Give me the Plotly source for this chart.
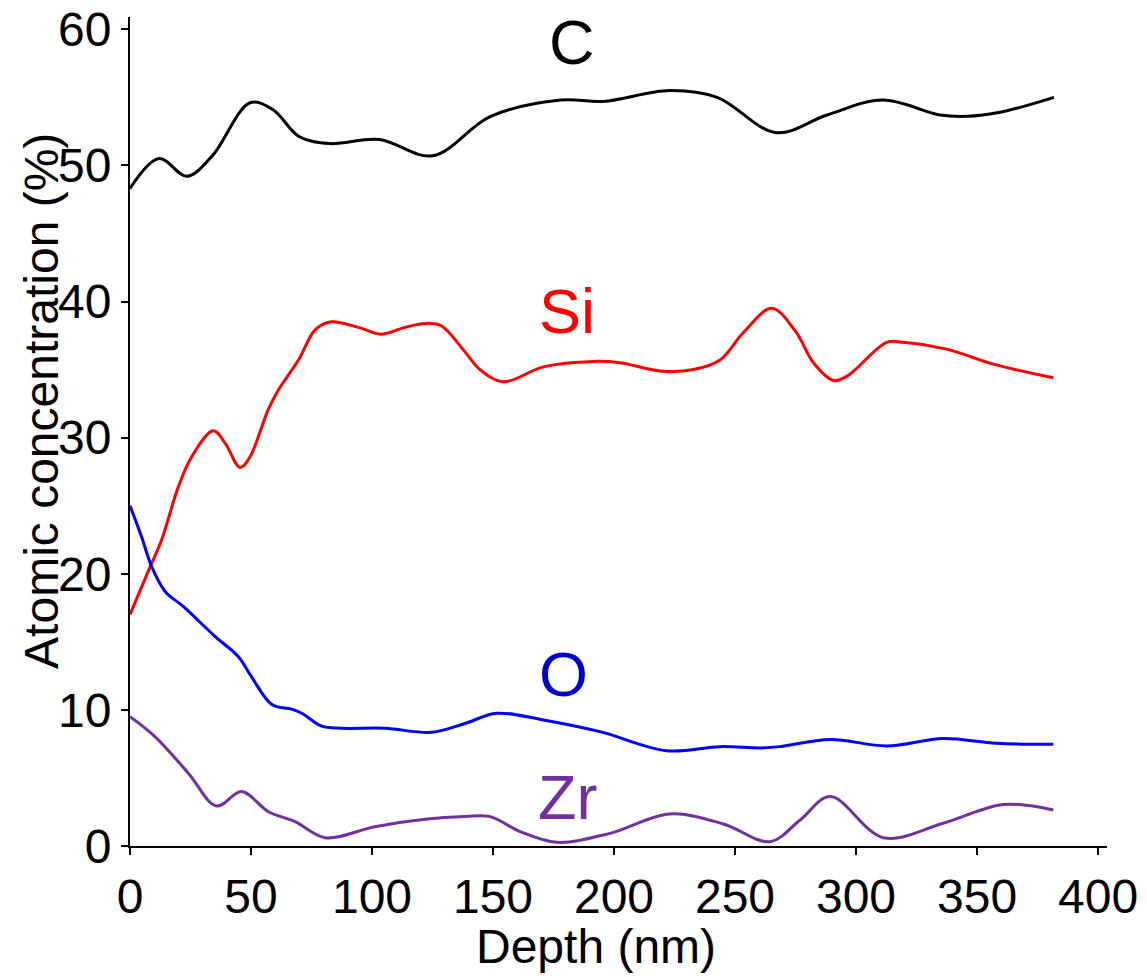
import plotly.graph_objects as go

# Depth (nm) and atomic concentration (%)
c_depth = [0, 12, 23.5, 34, 49.6, 59, 70, 82.6, 103, 125, 149, 178, 195.5, 223, 242.6, 267, 288, 311, 334.7, 345.7, 359.5, 381.8]
c_conc = [48.3, 50.5, 49.2, 50.7, 54.6, 54.1, 52.1, 51.6, 51.9, 50.7, 53.6, 54.8, 54.7, 55.5, 55.0, 52.4, 53.7, 54.8, 53.7, 53.6, 53.9, 55.0]

si_depth = [0, 8.3, 13.1, 20, 25.5, 34.4, 39.3, 45.5, 49.6, 57.2, 61.3, 69.6, 76.4, 82.6, 94.4, 104, 113.6, 123.3, 128.8, 138.4,
            144.6, 154.3, 170.8, 191.5, 202.5, 219, 232.8, 243.8, 253.4, 265.2, 275, 282.4, 290.6, 296.2, 312.7, 319.6, 337.5, 356.7, 381.5]
si_conc = [17.0, 20.5, 22.5, 26.4, 28.6, 30.5, 29.6, 27.8, 28.6, 32.1, 33.5, 35.7, 37.9, 38.5, 38.1, 37.6, 38.1, 38.4, 38.2, 36.3,
           35.0, 34.1, 35.2, 35.6, 35.5, 34.9, 35.0, 35.7, 37.7, 39.5, 37.8, 35.5, 34.2, 34.5, 37.0, 37.0, 36.5, 35.4, 34.4]

o_depth = [0, 4.8, 9.0, 14.5, 22, 35.1, 44.8, 50.3, 58.6, 66.8, 71, 79.2, 87.5, 105.4, 124.7, 138.4, 151.5, 170.8, 194.2, 221.8,
           243.8, 260.3, 268.6, 289.3, 312.7, 336, 358, 381.5]
o_conc = [25.0, 22.7, 20.5, 18.7, 17.6, 15.4, 13.9, 12.4, 10.4, 10.05, 9.75, 8.8, 8.65, 8.65, 8.35, 9.0, 9.75, 9.26, 8.4, 7.0,
          7.3, 7.2, 7.3, 7.83, 7.35, 7.9, 7.55, 7.48]

zr_depth = [0, 10.3, 24.1, 35.8, 46.1, 57.2, 68.2, 80.6, 101.2, 121.9, 138.4, 148.8, 161.2, 176.3, 198.3, 223, 245.2, 264.5,
            276.9, 289.3, 311.3, 336, 360.9, 381.5]
zr_conc = [9.5, 8.04, 5.35, 2.94, 4.0, 2.52, 1.79, 0.61, 1.42, 1.96, 2.16, 2.16, 1.06, 0.27, 0.93, 2.35, 1.62, 0.32,
           1.91, 3.63, 0.61, 1.67, 3.05, 2.65]

labels = ["C", "Si", "O", "Zr"]
label_x = [182.6, 180.6, 179, 180.8]
label_y = [59.1, 39.3, 12.6, 3.57]

colors = ["#000000", "#FF0000", "#0000FF", "#7030A0"]
label_colors = ["#000000", "#FF0000", "#0000CC", "#7030A0"]

x_ticks = [0, 50, 100, 150, 200, 250, 300, 350, 400]
y_ticks = [0, 10, 20, 30, 40, 50, 60]

series = [(c_depth, c_conc), (si_depth, si_conc), (o_depth, o_conc), (zr_depth, zr_conc)]

fig = go.Figure()
for (xs, ys), col, name in zip(series, colors, labels):
    fig.add_trace(go.Scatter(x=xs, y=ys, mode="lines", name=name,
                             line=dict(color=col, width=3, shape="spline", smoothing=1.0)))

font_family = "Liberation Sans, Arial, sans-serif"
for t, lx, ly, col in zip(labels, label_x, label_y, label_colors):
    fig.add_annotation(x=lx, y=ly, text=t, showarrow=False, xref="x", yref="y",
                       font=dict(family=font_family, size=63, color=col),
                       xanchor="center", yanchor="middle")

fig.add_annotation(x=0.477, y=-0.121, xref="paper", yref="paper", text="Depth (nm)",
                   showarrow=False, font=dict(family=font_family, size=48, color="#000"),
                   xanchor="center", yanchor="middle")
fig.add_annotation(x=-0.090, y=0.537, xref="paper", yref="paper", text="Atomic concentration (%)",
                   showarrow=False, textangle=-90, font=dict(family=font_family, size=48, color="#000"),
                   xanchor="center", yanchor="middle")

# page body has an 8px margin, so the figure is offset by 8px
fig.update_layout(
    width=1139, height=969,
    margin=dict(l=122, r=40, t=9, b=131, autoexpand=False),
    paper_bgcolor="white", plot_bgcolor="white",
    showlegend=False,
    font=dict(family=font_family, size=48, color="#000"),
)
fig.update_xaxes(range=[0, 403.7], tickvals=x_ticks, automargin=False,
                 showgrid=False, zeroline=False, showline=True, linecolor="#000", linewidth=2,
                 ticks="outside", ticklen=7, tickwidth=2, tickcolor="#000",
                 ticklabeloverflow="allow", tickfont=dict(size=48))
fig.update_yaxes(range=[0, 60.9], tickvals=y_ticks, automargin=False,
                 showgrid=False, zeroline=False, showline=True, linecolor="#000", linewidth=2,
                 ticks="outside", ticklen=7, tickwidth=2, tickcolor="#000",
                 ticklabeloverflow="allow", tickfont=dict(size=48))

fig.write_html("out.html")
